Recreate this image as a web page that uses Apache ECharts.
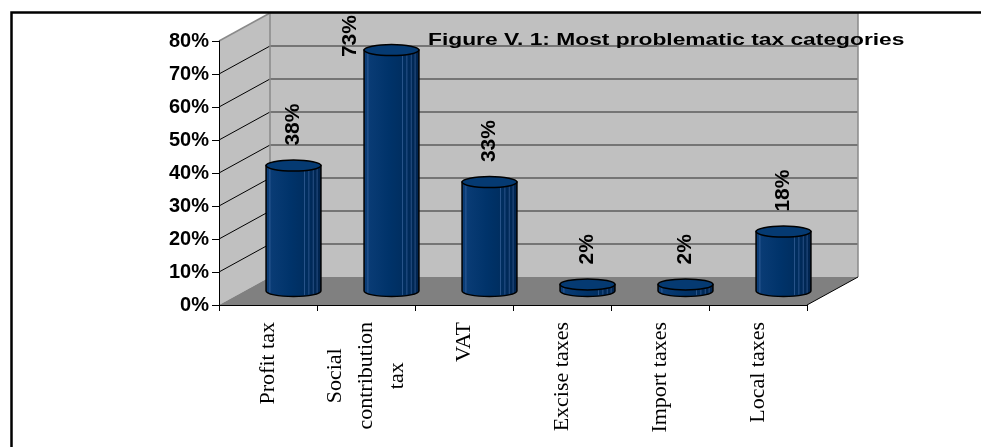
<!DOCTYPE html>
<html>
<head>
<meta charset="utf-8">
<script src="https://cdn.jsdelivr.net/npm/echarts@6/dist/echarts.min.js"></script>
<style>
  html, body { margin: 0; padding: 0; background: #fff; }
  #chart { width: 981px; height: 447px; }
</style>
</head>
<body>
<div id="chart"></div>
<script>
// Survey result: share of firms naming each tax as most problematic
const categories = ['Profit tax', 'Social\ncontribution\ntax', 'VAT', 'Excise taxes', 'Import taxes', 'Local taxes'];
const shares = [0.38, 0.73, 0.33, 0.02, 0.02, 0.18];
const yTicks = [0, 0.1, 0.2, 0.3, 0.4, 0.5, 0.6, 0.7, 0.8];
const titleText = 'Figure V. 1: Most problematic tax categories';

// Depth of the pseudo 3-D box (back plane offset from the front plane)
const DEPTH_X = 51;
const DEPTH_Y = -28;
const LABEL_GAP = 20;
const LABEL_FONT = 'bold 21px "Liberation Sans", Arial, sans-serif';

const pct = v => Math.round(v * 100) + '%';

const measureCtx = document.createElement('canvas').getContext('2d');
function textLength(text, font) {
  measureCtx.font = font;
  return measureCtx.measureText(text).width;
}

// Walls, floor and grid lines of the box, laid out from the value axis
function renderRoom(params, api) {
  const cs = params.coordSys;
  const x0 = cs.x, x1 = cs.x + cs.width;
  const yTop = cs.y, yBot = cs.y + cs.height;
  const bx0 = x0 + DEPTH_X, bx1 = x1 + DEPTH_X;
  const children = [];

  // back wall
  children.push({ type: 'polygon', shape: { points: [[bx0, yTop + DEPTH_Y], [bx1, yTop + DEPTH_Y], [bx1, yBot + DEPTH_Y], [bx0, yBot + DEPTH_Y]] },
    style: { fill: '#c0c0c0' } });
  // side wall
  children.push({ type: 'polygon', shape: { points: [[x0, yTop], [bx0, yTop + DEPTH_Y], [bx0, yBot + DEPTH_Y], [x0, yBot]] },
    style: { fill: '#c0c0c0' } });
  // floor
  children.push({ type: 'polygon', shape: { points: [[x0, yBot], [bx0, yBot + DEPTH_Y], [bx1, yBot + DEPTH_Y], [x1, yBot]] },
    style: { fill: '#808080' } });

  yTicks.forEach(function (t, k) {
    const fy = api.coord([0, t])[1];
    const isTop = k === yTicks.length - 1;
    if (t > 0 && !isTop) {
      // back wall grid line
      children.push({ type: 'line', shape: { x1: bx0, y1: fy + DEPTH_Y, x2: bx1, y2: fy + DEPTH_Y },
        style: { stroke: '#5c5c5c', lineWidth: 1.5 } });
    }
    if (t > 0) {
      // side wall grid line
      children.push({ type: 'line', shape: { x1: x0, y1: fy, x2: bx0, y2: fy + DEPTH_Y },
        style: { stroke: isTop ? '#8a8a8a' : '#000', lineWidth: isTop ? 1.5 : 1 } });
    }
  });

  // wall edges
  children.push({ type: 'line', shape: { x1: bx0, y1: yTop + DEPTH_Y, x2: bx0, y2: yBot + DEPTH_Y }, style: { stroke: '#8a8a8a', lineWidth: 1.5 } });
  children.push({ type: 'line', shape: { x1: bx1, y1: yTop + DEPTH_Y, x2: bx1, y2: yBot + DEPTH_Y }, style: { stroke: '#8a8a8a', lineWidth: 1.5 } });
  children.push({ type: 'line', shape: { x1: bx0, y1: yTop + DEPTH_Y, x2: bx1, y2: yTop + DEPTH_Y }, style: { stroke: '#8a8a8a', lineWidth: 1 } });
  // floor front-right edge
  children.push({ type: 'line', shape: { x1: x1, y1: yBot, x2: bx1, y2: yBot + DEPTH_Y }, style: { stroke: '#000', lineWidth: 1 } });

  return { type: 'group', children: children };
}

// Cylinder bars standing half way into the box, with rotated value labels
function renderCylinder(params, api) {
  const i = api.value(0);
  const v = api.value(1);
  const topPt = api.coord([i, v]);
  const basePt = api.coord([i, 0]);
  const cx = topPt[0] + DEPTH_X / 2;
  const ty = topPt[1] + DEPTH_Y / 2;
  const by = basePt[1] + DEPTH_Y / 2;
  const w = api.size([1, 0])[0] * 0.56;
  const rx = w / 2, ry = 5.5;
  const l = cx - rx, r = cx + rx;

  const bodyFill = new echarts.graphic.LinearGradient(0, 0, 1, 0, [
    { offset: 0, color: '#0c3e78' },
    { offset: 0.45, color: '#00336a' },
    { offset: 0.75, color: '#002d5e' },
    { offset: 1, color: '#00224c' }
  ]);

  const children = [];
  children.push({
    type: 'path',
    shape: { pathData: 'M' + l + ' ' + ty + 'L' + l + ' ' + by + 'A' + rx + ' ' + ry + ' 0 0 0 ' + r + ' ' + by + 'L' + r + ' ' + ty + 'Z' },
    style: { fill: bodyFill, stroke: '#000', lineWidth: 1.5 }
  });
  // vertical shading facets
  [0.07, 0.7, 0.78, 0.86, 0.93].forEach(function (f) {
    const sx = l + f * w;
    const dy = ry * Math.sqrt(Math.max(0, 1 - Math.pow((sx - cx) / rx, 2)));
    if (by + dy - ty > 3) {
      children.push({ type: 'line', shape: { x1: sx, y1: ty + 2, x2: sx, y2: by + dy - 1 },
        style: { stroke: 'rgba(90,130,190,0.45)', lineWidth: 1 } });
    }
  });
  // top cap
  children.push({
    type: 'path',
    shape: { pathData: 'M' + l + ' ' + ty + 'A' + rx + ' ' + ry + ' 0 1 0 ' + r + ' ' + ty + 'A' + rx + ' ' + ry + ' 0 1 0 ' + l + ' ' + ty + 'Z' },
    style: { fill: '#053a72', stroke: '#000', lineWidth: 1.5 }
  });

  // value label: above the cap, or beside the bar when there is no room above
  const label = pct(v);
  const len = textLength(label, LABEL_FONT);
  let lx = cx;
  let ly = ty - LABEL_GAP;
  if (ly - len < params.coordSys.y + DEPTH_Y) {
    lx = l - 14;
    ly = ty + 7;
  }
  children.push({
    type: 'text', x: lx, y: ly, rotation: Math.PI / 2,
    style: { text: label, font: LABEL_FONT, fill: '#000', align: 'left', verticalAlign: 'middle' }
  });

  return { type: 'group', children: children };
}

const chart = echarts.init(document.getElementById('chart'), null, { renderer: 'canvas' });

chart.setOption({
  animation: false,
  backgroundColor: '#fff',
  grid: { left: 219, top: 41, width: 588, height: 264 },
  xAxis: {
    type: 'category',
    data: categories,
    boundaryGap: true,
    axisLine: { lineStyle: { color: '#000', width: 1 } },
    axisTick: { show: true, length: 6, alignWithLabel: false, lineStyle: { color: '#000' } },
    axisLabel: {
      interval: 0,
      rotate: 90,
      margin: 17,
      color: '#000',
      fontFamily: '"Liberation Serif", "Times New Roman", serif',
      fontSize: 22,
      lineHeight: 31,
      formatter: function (val) {
        return val.split('\n').map(function (s) { return '{c|' + s + '}'; }).join('\n');
      },
      rich: {
        c: { align: 'center', fontFamily: '"Liberation Serif", "Times New Roman", serif', fontSize: 22, lineHeight: 31, color: '#000' }
      }
    },
    splitLine: { show: false }
  },
  yAxis: {
    type: 'value',
    min: yTicks[0],
    max: yTicks[yTicks.length - 1],
    interval: 0.1,
    axisLine: { show: true, lineStyle: { color: '#000', width: 1 } },
    axisTick: { show: true, length: 7, lineStyle: { color: '#000' } },
    axisLabel: {
      margin: 10,
      color: '#000',
      fontFamily: '"Liberation Sans", Arial, sans-serif',
      fontWeight: 'bold',
      fontSize: 20,
      formatter: pct
    },
    splitLine: { show: false }
  },
  series: [
    {
      type: 'custom',
      name: 'room',
      z: -1,
      silent: true,
      clip: false,
      renderItem: renderRoom,
      data: [[0, 0]]
    },
    {
      type: 'custom',
      name: 'share',
      z: 3,
      clip: false,
      renderItem: renderCylinder,
      data: shares.map(function (v, i) { return [i, v]; })
    }
  ],
  graphic: [
    {
      type: 'text',
      x: 428, y: 40, scaleX: 1.34, z: 100,
      style: { text: titleText, font: 'bold 17px "Liberation Sans", Arial, sans-serif', fill: '#000', align: 'left', verticalAlign: 'middle' }
    },
    {
      type: 'polyline', z: 100,
      shape: { points: [[11.5, 447], [11.5, 12.5], [981, 12.5]] },
      style: { stroke: '#000', lineWidth: 2.5, fill: null }
    }
  ]
});
</script>
</body>
</html>
